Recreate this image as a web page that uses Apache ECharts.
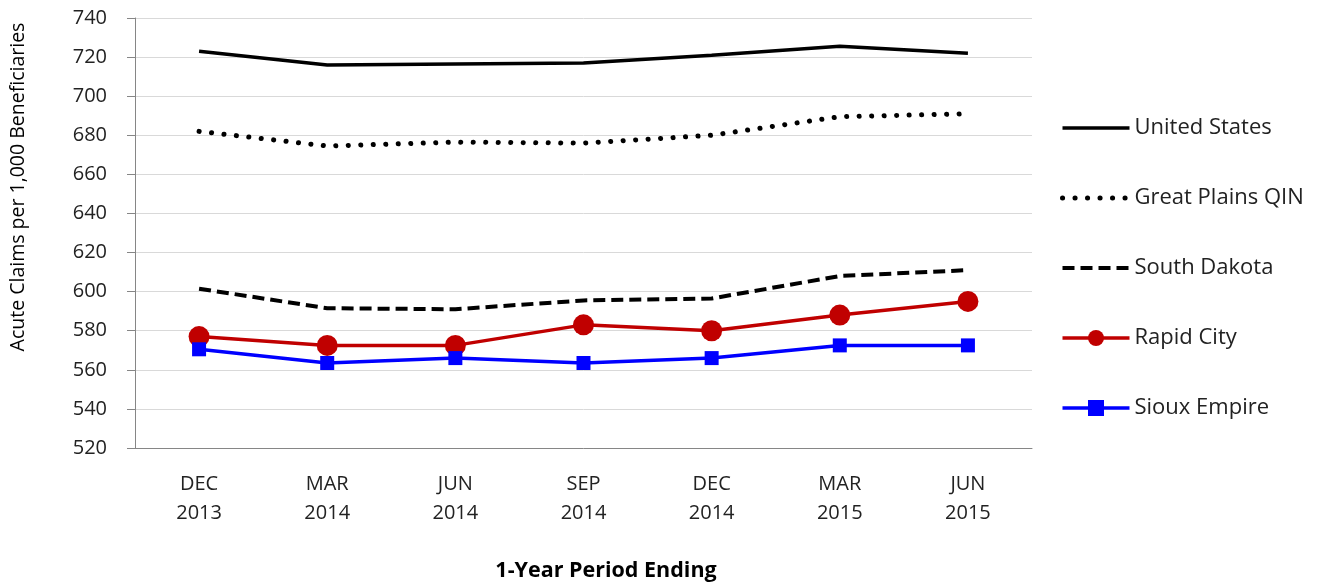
<!DOCTYPE html>
<html>
<head>
<meta charset="utf-8">
<title>Acute Claims per 1,000 Beneficiaries</title>
<script src="https://cdn.jsdelivr.net/npm/echarts@6/dist/echarts.min.js"></script>
<style>
    html, body { margin: 0; padding: 0; background: #fff; }
    #echarts { width: 1320px; height: 588px; }
</style>
</head>
<body>
<div id="echarts"></div>
<script>
// 数据
var categories = ['DEC\n2013', 'MAR\n2014', 'JUN\n2014', 'SEP\n2014', 'DEC\n2014', 'MAR\n2015', 'JUN\n2015'];
var unitedStates = [723, 716, 716.5, 717, 721, 725.5, 722];
var greatPlains = [682, 674.5, 676.5, 676, 680, 689.5, 691];
var southDakota = [601.5, 591.5, 591, 595.5, 596.5, 608, 611];
var rapidCity = [577, 572.5, 572.5, 583, 580, 588, 595];
var siouxEmpire = [570.5, 563.5, 566, 563.5, 566, 572.5, 572.5];
var yTicks = {min: 520, max: 740, interval: 20};

var fontName = '"Open Sans", "Liberation Sans", sans-serif';
// 图例里只显示线, 不显示符号
var lineOnly = {color: 'rgba(0,0,0,0)', borderWidth: 0, opacity: 0};

var myChart = echarts.init(document.getElementById('echarts'));
var option = {
    animation: false,
    textStyle: {fontFamily: fontName},
    title: {
        text: '1-Year Period Ending',
        left: 606,
        top: 560,
        padding: 0,
        textAlign: 'center',
        textStyle: {fontSize: 21.5, fontWeight: 'bold', color: '#000', fontFamily: fontName}
    },
    legend: {
        orient: 'vertical',
        left: 1060,
        top: 117,
        padding: 0,
        itemWidth: 67,
        itemHeight: 20,
        itemGap: 48,
        lineStyle: {width: 'inherit'},
        textStyle: {fontSize: 22, color: '#222', padding: [0, 0, 0, 0]},
        data: [
            {name: 'United States', itemStyle: lineOnly},
            {name: 'Great Plains QIN', itemStyle: lineOnly},
            {name: 'South Dakota', itemStyle: lineOnly},
            'Rapid City',
            'Sioux Empire'
        ]
    },
    grid: {left: 135, right: 288, top: 18, bottom: 140, outerBoundsMode: 'none'},
    xAxis: {
        type: 'category',
        boundaryGap: true,
        data: categories,
        axisLine: {lineStyle: {color: '#868686', width: 1}},
        axisTick: {alignWithLabel: true, length: 8, lineStyle: {color: '#868686'}},
        axisLabel: {fontSize: 20, color: '#222', margin: 22, lineHeight: 29}
    },
    yAxis: {
        type: 'value',
        min: yTicks.min,
        max: yTicks.max,
        interval: yTicks.interval,
        name: 'Acute Claims per 1,000 Beneficiaries',
        nameLocation: 'middle',
        nameGap: 107,
        nameRotate: 90,
        nameTextStyle: {fontSize: 19.5, color: '#000', padding: [0, 0, 0, 92]},
        axisLine: {show: true, lineStyle: {color: '#868686', width: 1}},
        axisTick: {show: true, length: 8, lineStyle: {color: '#868686'}},
        axisLabel: {fontSize: 20, color: '#222', margin: 28},
        splitLine: {lineStyle: {color: '#D9D9D9', width: 1}}
    },
    series: [
        {
            name: 'United States',
            type: 'line',
            data: unitedStates,
            showSymbol: false,
            color: '#000',
            lineStyle: {color: '#000', width: 3.5}
        },
        {
            name: 'Great Plains QIN',
            type: 'line',
            data: greatPlains,
            showSymbol: false,
            color: '#000',
            lineStyle: {color: '#000', width: 5, type: [0.1, 12.4], cap: 'round'}
        },
        {
            name: 'South Dakota',
            type: 'line',
            data: southDakota,
            showSymbol: false,
            color: '#000',
            lineStyle: {color: '#000', width: 4, type: [12, 6]}
        },
        {
            name: 'Rapid City',
            type: 'line',
            data: rapidCity,
            symbol: 'circle',
            symbolSize: 21,
            color: '#C00000',
            itemStyle: {color: '#C00000'},
            lineStyle: {color: '#C00000', width: 3.5}
        },
        {
            name: 'Sioux Empire',
            type: 'line',
            data: siouxEmpire,
            symbol: 'rect',
            symbolSize: 14,
            color: '#0000FF',
            itemStyle: {color: '#0000FF'},
            lineStyle: {color: '#0000FF', width: 3.5}
        }
    ]
};
myChart.setOption(option);
</script>
</body>
</html>
